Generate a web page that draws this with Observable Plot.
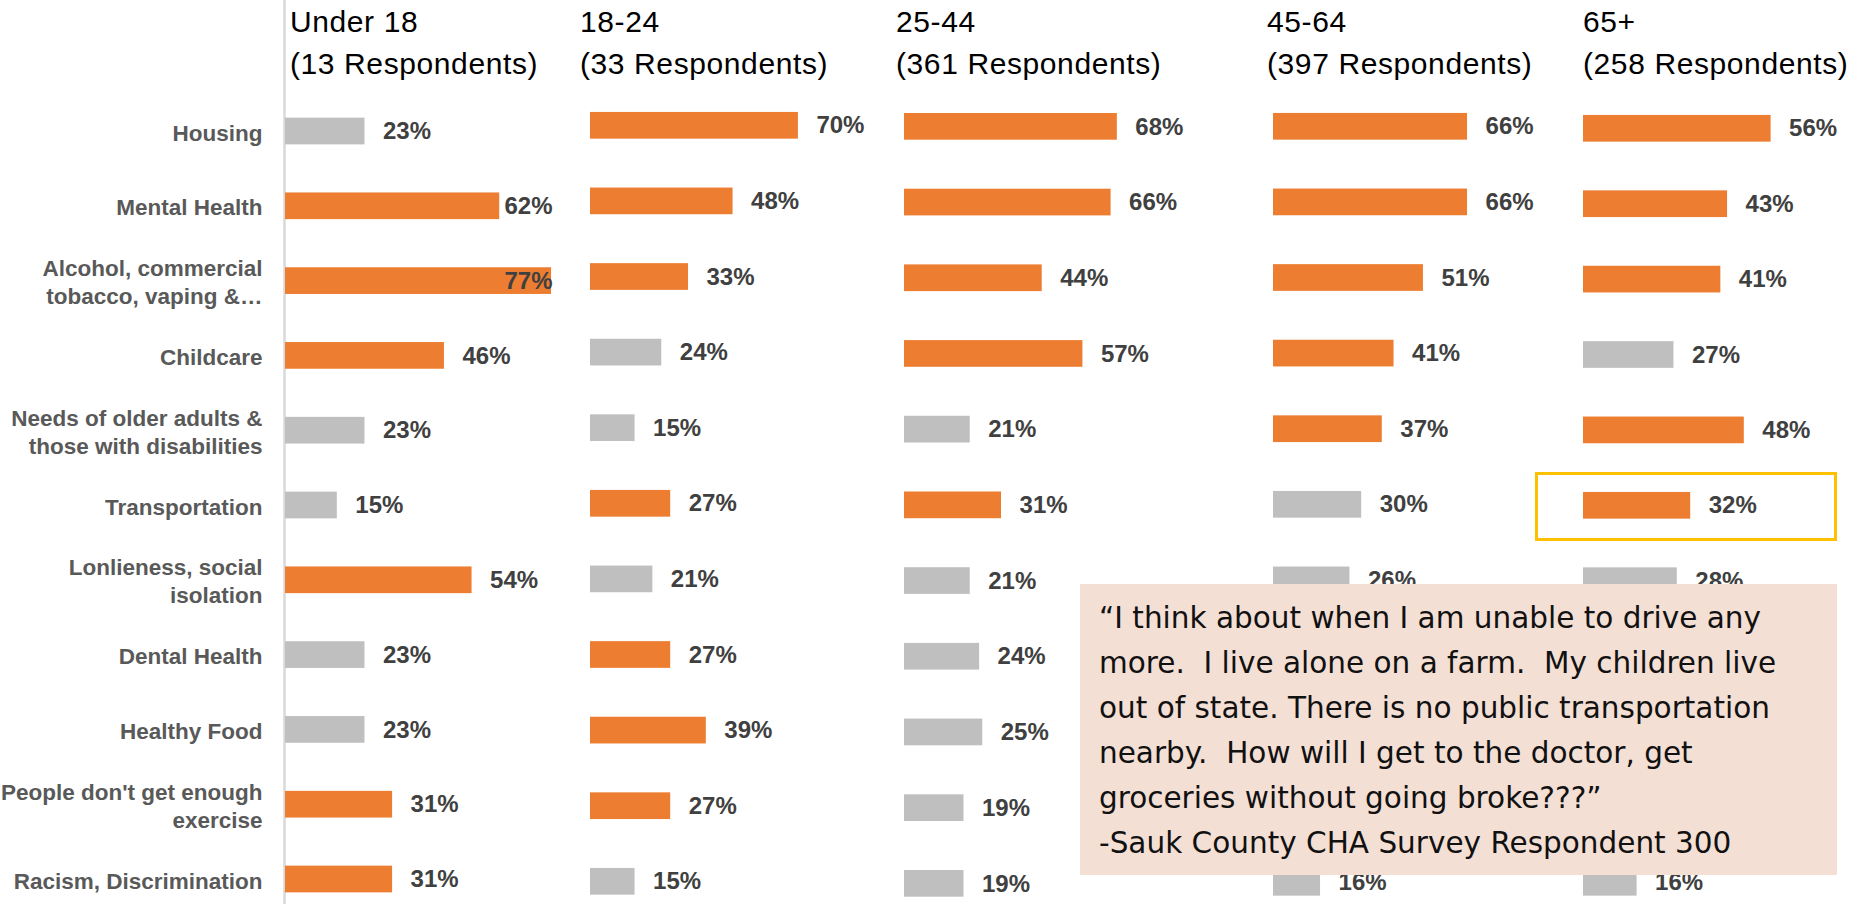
<!DOCTYPE html>
<html>
<head>
<meta charset="utf-8">
<script src="https://cdn.jsdelivr.net/npm/d3@7"></script>
<script src="https://cdn.jsdelivr.net/npm/@observablehq/plot@0.6"></script>
<style>
  html, body { margin: 0; padding: 0; background: #fff; }
  body { width: 1863px; height: 904px; overflow: hidden; }
  #chart { position: relative; width: 1863px; height: 904px; }
  #chart svg { position: absolute; left: 0; top: 0; overflow: visible; }
  .hdr { position: absolute; top: 1px; font-family: "Liberation Sans", Arial, sans-serif; font-size: 30px; line-height: 41.5px; color: #000; white-space: nowrap; letter-spacing: 0.6px; }
  #quote { position: absolute; left: 1080px; top: 584px; width: 757px; height: 291px; background: #F4DFD5; box-sizing: border-box; padding: 12px 0 0 19px; font-family: "DejaVu Sans", sans-serif; font-size: 29.5px; line-height: 45px; color: #111; white-space: pre; }
  #highlight { position: absolute; left: 1535px; top: 472px; width: 302px; height: 69px; border: 3px solid #FFC000; box-sizing: border-box; }
</style>
</head>
<body>
<div id="chart"></div>
<script>
// ---- data ----
const categories = [
  "Housing",
  "Mental Health",
  "Alcohol, commercial\ntobacco, vaping &…",
  "Childcare",
  "Needs of older adults &\nthose with disabilities",
  "Transportation",
  "Lonlieness, social\nisolation",
  "Dental Health",
  "Healthy Food",
  "People don't get enough\nexercise",
  "Racism, Discrimination"
];
const ageGroups = ["Under 18", "18-24", "25-44", "45-64", "65+"];
const respondents = [13, 33, 361, 397, 258];
const under18   = [23, 62, 77, 46, 23, 15, 54, 23, 23, 31, 31];
const age18_24  = [70, 48, 33, 24, 15, 27, 21, 27, 39, 27, 15];
const age25_44  = [68, 66, 44, 57, 21, 31, 21, 24, 25, 19, 19];
const age45_64  = [66, 66, 51, 41, 37, 30, 26, null, null, null, 16]; // null: hidden under the quote box
const age65plus = [56, 43, 41, 27, 48, 32, 28, null, null, null, 16]; // null: hidden under the quote box
const seriesValues = [under18, age18_24, age25_44, age45_64, age65plus];
const topN = 5;
const quoteText = "“I think about when I am unable to drive any\nmore.  I live alone on a farm.  My children live\nout of state. There is no public transportation\nnearby.  How will I get to the doctor, get\ngroceries without going broke???”\n-Sauk County CHA Survey Respondent 300";

// ---- layout (per-panel scales, like separate Excel charts) ----
const layout = [
  {x0: 285,  pxPer: 3.455, r0: 93.6, step: 74.8, hdr: 290,  axisMax: 77.3},
  {x0: 590,  pxPer: 2.97,  r0: 87.5, step: 75.6, hdr: 580,  axisMax: null},
  {x0: 904,  pxPer: 3.13,  r0: 88.5, step: 75.7, hdr: 896,  axisMax: null},
  {x0: 1273, pxPer: 2.94,  r0: 88.5, step: 75.6, hdr: 1267, axisMax: null},
  {x0: 1583, pxPer: 3.35,  r0: 90.6, step: 75.4, hdr: 1583, axisMax: null}
];
const ORANGE = "#ED7D31", GRAY = "#BFBFBF";
const barH = 26.7;
const labelFont = "'Liberation Sans', Arial, sans-serif";

const chart = document.getElementById("chart");

ageGroups.forEach((g, i) => {
  const L = layout[i];
  const vals = seriesValues[i];
  const known = vals.filter(v => v != null).sort((a, b) => b - a);
  const cutoff = known[topN - 1];
  const data = categories
    .map((c, j) => ({cat: c, value: vals[j], hi: vals[j] >= cutoff}))
    .filter(d => d.value != null);
  const inset = (L.step - barH) / 2;
  const clampLimit = L.axisMax;
  const labelRoom = 68 / L.pxPer; // room needed for "xx%" label after bar
  const fits = d => clampLimit == null || d.value + labelRoom <= clampLimit;

  const marks = [
    Plot.barX(data, {
      y: "cat", x: "value",
      fill: d => d.hi ? ORANGE : GRAY,
      insetTop: inset, insetBottom: inset
    }),
    Plot.text(data.filter(fits), {
      y: "cat", x: "value", text: d => d.value + "%",
      textAnchor: "start", dx: 18,
      fontFamily: labelFont, fontWeight: "bold", fontSize: 24, fill: "#404040"
    }),
    Plot.text(data.filter(d => !fits(d)), {
      y: "cat", x: () => clampLimit, text: d => d.value + "%",
      textAnchor: "end", dx: 0,
      fontFamily: labelFont, fontWeight: "bold", fontSize: 24, fill: "#404040"
    })
  ];
  if (i === 0) {
    marks.unshift(Plot.ruleX([0], {stroke: "#D9D9D9", strokeWidth: 2.5, dx: -1}));
    marks.push(Plot.text(categories, {
      y: d => d, x: () => 0, text: d => d,
      textAnchor: "end", dx: -23, lineHeight: 1.25,
      fontFamily: labelFont, fontWeight: "bold", fontSize: 22.5, fill: "#595959",
      ariaLabel: "category-labels"
    }));
  }

  const svg = Plot.plot({
    width: 1863, height: 930,
    marginTop: 0, marginBottom: 0, marginLeft: 0, marginRight: 0,
    style: {background: "transparent", overflow: "visible"},
    x: {domain: [0, 100], range: [L.x0, L.x0 + 100 * L.pxPer], axis: null},
    y: {domain: categories, range: [L.r0, L.r0 + categories.length * L.step], padding: 0, round: false, axis: null},
    marks
  });
  chart.appendChild(svg);

  // header
  const h = document.createElement("div");
  h.className = "hdr";
  h.style.left = L.hdr + "px";
  h.innerHTML = g + "<br>(" + respondents[i] + " Respondents)";
  chart.appendChild(h);
});

// center multi-line category labels within their block (Excel style)
chart.querySelectorAll('g[aria-label="category-labels"] text').forEach(t => {
  const spans = t.querySelectorAll("tspan");
  if (spans.length < 2) return;
  const w = Math.max(...Array.from(spans, s => s.getComputedTextLength()));
  t.setAttribute("text-anchor", "middle");
  spans.forEach(s => s.setAttribute("x", -w / 2));
});

// highlight box around 65+ Transportation
const hl = document.createElement("div");
hl.id = "highlight";
chart.appendChild(hl);

// quote
const q = document.createElement("div");
q.id = "quote";
q.textContent = quoteText;
chart.appendChild(q);
</script>
</body>
</html>
